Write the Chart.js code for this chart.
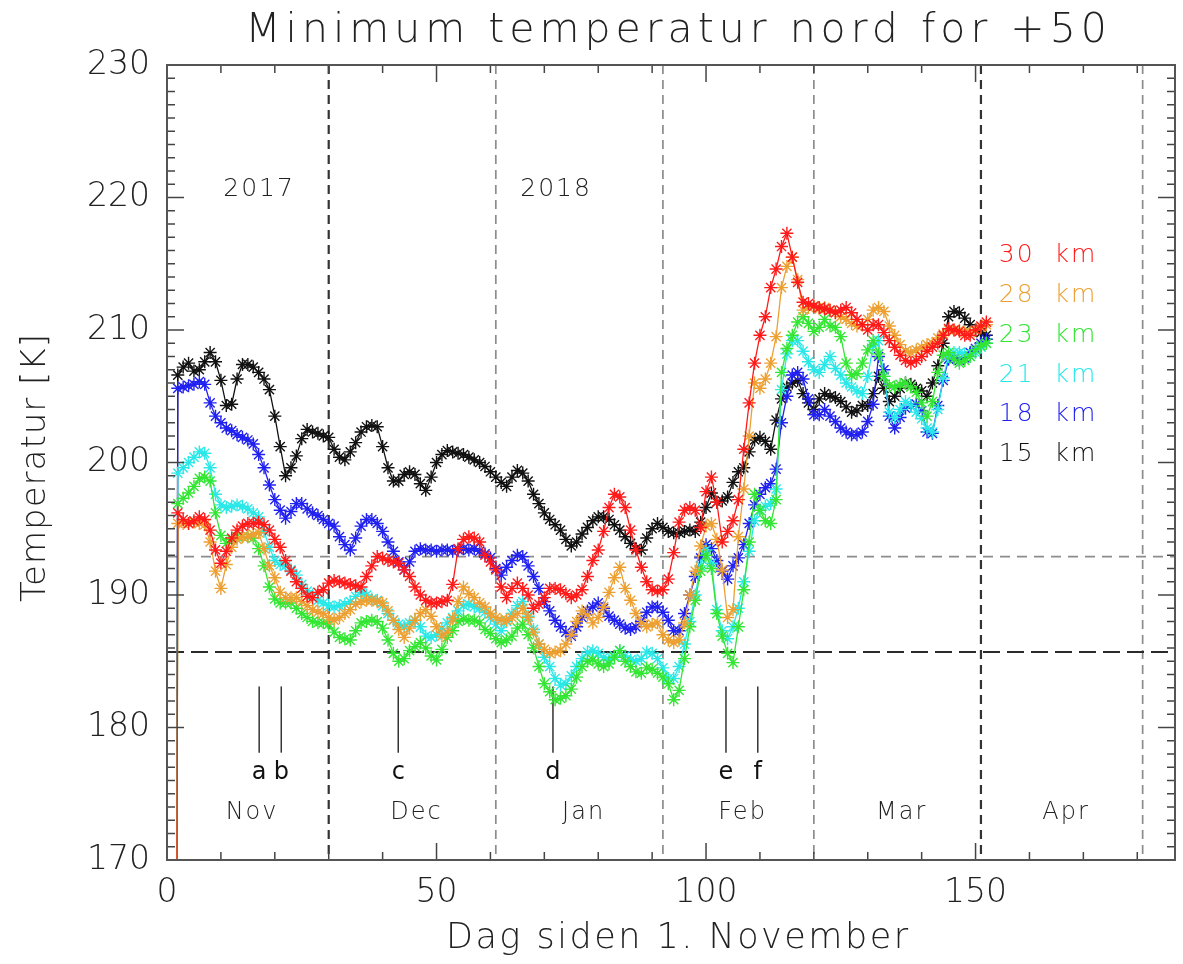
<!DOCTYPE html>
<html>
<head>
<meta charset="utf-8">
<title>Minimum temperatur nord for +50</title>
<script src="https://cdn.jsdelivr.net/npm/chart.js@4.4.1/dist/chart.umd.min.js"></script>
<style>
  html, body { margin: 0; padding: 0; background: #fff; }
  #ramme { width: 1183px; height: 964px; position: relative; }
</style>
</head>
<body>
<div id="ramme"><canvas id="graf"></canvas></div>
<script>
// dag 1 er fyllverdi (0) i alle seriene, derfor den loddrette streken ved start
const dager = Array.from({ length: 152 }, (_, i) => i + 1);

const hoyder = ['30 km', '28 km', '23 km', '21 km', '18 km', '15 km'];

const t30 = [0,
  196.2, 195.7, 195.4, 195.6, 195.9, 195.7, 194.9, 193.4, 192.4, 193.3,
  194.3, 194.9, 195.2, 195.4, 195.4, 195.5, 195.3, 194.9, 194.2, 193.6,
  192.6, 191.8, 191.0, 190.5, 189.9, 189.8, 190.2, 190.4, 190.9, 191.1,
  191.0, 190.9, 190.8, 190.7, 190.6, 191.4, 192.2, 192.9, 192.8, 192.6,
  192.5, 192.4, 191.9, 191.4, 190.6, 190.0, 189.6, 189.4, 189.4, 189.5,
  189.6, 190.8, 193.5, 194.2, 194.4, 194.3, 194.0, 193.0, 192.5, 191.9,
  190.6, 189.8, 190.5, 190.9, 190.5, 190.0, 189.0, 189.3, 189.8, 190.5,
  190.5, 190.4, 190.1, 189.8, 190.0, 190.4, 191.4, 192.6, 193.4, 194.8,
  196.6, 197.6, 197.4, 196.6, 194.9, 193.4, 192.1, 191.0, 190.4, 190.3,
  190.4, 191.2, 193.2, 195.5, 196.4, 196.6, 196.4, 195.1, 197.8, 198.9,
  197.0, 194.0, 194.8, 195.6, 197.2, 201.0, 204.5, 207.5, 209.6, 211.0,
  213.2, 214.6, 216.3, 217.3, 215.5, 213.6, 212.1, 212.0, 211.8, 211.7,
  211.6, 211.5, 211.3, 211.5, 211.7, 211.3, 210.8, 210.4, 210.0, 210.4,
  210.4, 209.8, 209.2, 208.7, 208.1, 207.7, 207.5, 207.7, 208.0, 208.4,
  208.7, 209.0, 209.6, 210.1, 210.0, 209.9, 209.6, 209.6, 210.0, 210.3, 210.6];

const t28 = [0,
  195.4, 195.4, 195.4, 195.5, 195.4, 195.3, 194.0, 191.8, 190.5, 192.3,
  193.6, 194.2, 194.4, 194.4, 194.6, 194.7, 193.5, 192.2, 191.3, 190.2,
  189.8, 189.8, 189.8, 189.5, 189.2, 188.9, 188.7, 188.6, 188.3, 188.1,
  188.3, 188.6, 188.9, 189.3, 189.5, 189.6, 189.6, 189.5, 189.4, 188.8,
  188.1, 187.4, 186.8, 187.5, 188.1, 188.6, 188.9, 188.4, 187.6, 186.9,
  187.2, 188.2, 189.5, 190.6, 190.1, 189.8, 189.4, 189.1, 188.6, 188.3,
  188.1, 188.1, 188.3, 188.6, 189.0, 188.3, 187.2, 186.3, 185.9, 185.6,
  185.7, 185.8, 186.3, 187.0, 188.0, 188.8, 188.5, 187.9, 188.3, 189.1,
  190.2, 191.3, 192.1, 190.5, 189.6, 188.6, 187.9, 187.6, 187.8, 187.9,
  187.0, 186.6, 186.4, 186.6, 187.9, 190.0, 191.8, 193.7, 195.2, 195.4,
  194.2, 191.9, 188.3, 188.9, 194.4, 198.0, 202.0, 206.0, 205.6, 206.3,
  207.5, 209.5, 213.2, 214.8, 215.5, 213.8, 211.5, 211.7, 211.8, 211.6,
  211.7, 211.5, 211.3, 211.0, 210.8, 210.5, 210.3, 210.4, 210.8, 211.5,
  211.7, 211.4, 210.3, 209.6, 208.9, 208.4, 208.3, 208.5, 208.7, 208.9,
  209.0, 209.4, 209.7, 210.0, 210.0, 210.0, 209.8, 209.8, 210.0, 210.2, 210.4];

const t23 = [0,
  196.9, 197.3, 197.7, 198.2, 198.8, 198.9, 198.6, 196.2, 194.5, 193.9,
  194.2, 194.4, 194.4, 194.4, 194.3, 193.5, 192.2, 190.6, 189.7, 189.4,
  189.4, 189.4, 189.0, 188.6, 188.3, 188.0, 187.9, 187.9, 187.8, 187.2,
  186.8, 186.7, 186.6, 187.3, 187.9, 188.0, 188.1, 188.0, 187.5, 186.6,
  185.6, 185.0, 185.2, 185.8, 186.1, 186.4, 186.0, 185.4, 185.1, 185.9,
  186.8, 187.3, 188.0, 188.2, 188.1, 188.1, 187.9, 187.4, 187.1, 186.7,
  186.4, 186.6, 186.9, 187.5, 187.8, 187.0, 186.0, 184.6, 183.3, 182.7,
  182.1, 182.2, 182.4, 182.9, 183.8, 184.6, 185.0, 185.1, 184.8, 184.6,
  184.8, 185.3, 185.8, 185.0, 184.6, 184.2, 184.1, 184.5, 184.4, 184.1,
  183.8, 183.3, 182.1, 182.8, 185.2, 187.6, 189.6, 191.8, 193.0, 192.0,
  188.6, 186.9, 185.6, 184.9, 187.6, 190.4, 194.0, 197.6, 196.4, 195.6,
  195.4, 197.2, 206.8, 208.6, 209.6, 210.6, 211.0, 210.5, 209.9, 210.2,
  210.8, 210.3, 210.2, 209.5, 207.5, 206.6, 206.7, 207.5, 208.5, 209.2,
  208.2, 206.5, 205.8, 205.7, 205.9, 206.0, 205.7, 205.3, 204.5, 203.5,
  204.6, 206.8, 208.1, 208.3, 207.8, 207.5, 207.7, 208.0, 208.5, 208.8, 209.0];

const t21 = [0,
  199.2, 199.6, 200.0, 200.4, 200.8, 200.7, 199.6, 197.6, 196.8, 196.6,
  196.7, 196.8, 196.7, 196.5, 196.2, 195.9, 194.8, 193.6, 192.6, 192.3,
  192.2, 191.9, 191.5, 190.8, 190.3, 190.0, 189.6, 189.4, 189.2, 189.1,
  189.2, 189.3, 189.5, 189.9, 190.2, 190.0, 189.7, 189.6, 189.2, 188.6,
  188.1, 187.8, 187.6, 187.9, 188.1, 187.6, 186.9, 186.8, 187.0, 187.5,
  187.9, 188.3, 188.8, 189.2, 189.3, 189.1, 189.0, 188.7, 188.3, 187.8,
  187.3, 188.0, 188.6, 189.2, 189.5, 188.4, 187.4, 186.3, 185.3, 184.6,
  183.7, 183.2, 183.3, 183.9, 184.6, 185.2, 185.7, 185.8, 185.6, 185.3,
  185.1, 185.4, 185.8, 185.4, 185.1, 185.0, 185.2, 185.7, 185.6, 185.2,
  184.5, 183.7, 183.7, 184.6, 186.3, 188.0, 190.0, 192.2, 193.4, 192.4,
  188.9, 187.3, 186.7, 187.6, 189.0, 191.0, 193.3, 195.6, 196.4, 196.7,
  196.9, 198.0, 205.5, 208.2, 209.2, 209.2, 208.4, 207.6, 207.0, 206.8,
  207.4, 208.0, 207.1, 206.6, 206.0, 205.7, 205.4, 205.2, 206.5, 208.8,
  209.2, 206.5, 203.8, 203.4, 204.0, 204.6, 204.3, 203.8, 203.3, 202.6,
  202.3, 204.0, 206.4, 208.0, 208.3, 208.3, 208.2, 208.0, 208.3, 208.7, 209.0];

const t18 = [0,
  205.6, 205.7, 205.8, 205.9, 206.1, 205.9, 204.5, 203.5, 203.0, 202.6,
  202.4, 202.1, 201.9, 201.7, 201.4, 200.6, 199.6, 198.3, 197.2, 196.4,
  195.8, 196.3, 196.9, 196.9, 196.5, 196.2, 196.0, 195.7, 195.4, 195.2,
  194.4, 193.8, 193.4, 194.3, 195.2, 195.7, 195.7, 195.4, 194.8, 194.0,
  193.3, 192.5, 191.9, 192.5, 193.3, 193.5, 193.4, 193.4, 193.3, 193.4,
  193.4, 193.3, 193.4, 193.5, 193.4, 193.5, 193.3, 193.1, 192.8, 192.0,
  191.5, 192.1, 192.6, 193.0, 192.9, 192.2, 191.4, 190.5, 189.5, 188.8,
  188.1, 187.6, 187.2, 186.9, 187.6, 188.3, 188.8, 189.1, 189.4, 189.0,
  188.4, 188.1, 187.8, 187.5, 187.4, 187.6, 188.0, 188.7, 189.1, 189.1,
  188.7, 188.1, 187.3, 187.3, 188.6, 190.0, 191.4, 192.8, 193.8, 193.5,
  192.6, 191.8, 191.2, 192.2, 192.8, 193.8, 195.4, 196.8, 197.6, 198.1,
  198.4, 199.5, 203.0, 205.0, 206.6, 206.8, 206.3, 204.8, 203.6, 203.6,
  204.0, 203.5, 203.1, 202.6, 202.3, 202.1, 202.1, 202.3, 203.1, 204.4,
  208.0, 207.0, 203.5, 202.6, 203.4, 204.1, 204.3, 204.4, 203.9, 202.3,
  202.2, 204.3, 206.2, 207.8, 207.9, 207.7, 207.9, 208.3, 208.6, 209.0, 209.3];

const t15 = [0,
  206.6, 207.2, 207.5, 206.9, 207.0, 207.6, 208.3, 207.6, 206.2, 204.3,
  204.4, 206.3, 207.4, 207.4, 207.2, 206.8, 206.3, 205.5, 203.5, 201.2,
  199.0, 199.6, 200.5, 201.8, 202.5, 202.3, 202.2, 202.0, 201.9, 201.0,
  200.4, 200.2, 200.8, 201.5, 202.3, 202.7, 202.8, 202.7, 201.2, 199.6,
  198.6, 198.6, 199.1, 199.3, 199.1, 198.4, 197.9, 198.9, 200.0, 200.6,
  200.9, 200.8, 200.7, 200.6, 200.4, 200.2, 200.0, 199.7, 199.3, 198.9,
  198.5, 198.2, 198.9, 199.4, 199.2, 198.6, 197.6, 196.9, 196.2, 195.7,
  195.3, 194.9, 194.2, 193.7, 194.0, 194.6, 195.1, 195.6, 195.9, 195.9,
  195.7, 195.3, 194.9, 194.4, 193.9, 193.5, 193.4, 194.3, 195.0, 195.4,
  195.1, 194.8, 194.7, 194.7, 194.8, 194.9, 194.8, 195.5, 196.6, 197.7,
  197.0, 197.1, 197.4, 198.5, 199.3, 199.6, 200.8, 201.7, 201.9, 201.6,
  201.0, 203.2, 204.8, 205.7, 206.0, 206.2, 205.2, 204.5, 204.0, 204.8,
  205.2, 205.0, 204.9, 204.6, 204.2, 203.8, 203.9, 204.3, 204.3, 205.2,
  206.5, 205.6, 204.6, 205.0, 205.6, 206.0, 205.9, 205.6, 205.4, 205.0,
  206.0, 207.3, 209.0, 211.0, 211.4, 211.3, 210.9, 210.4, 210.0, 209.8, 209.6];

const serier = [t30, t28, t23, t21, t18, t15];
const farger = ['#ff1a1a', '#eda032', '#33e633', '#2ae8e8', '#2020f0', '#111111'];

// akser
const xTikker = [0, 50, 100, 150];
const yTikker = [170, 180, 190, 200, 210, 220, 230];

// månedsgrenser (dag), navn og årstall
const maneder = ['Nov', 'Dec', 'Jan', 'Feb', 'Mar', 'Apr'];
const manedsgrenser = [30, 61, 92, 120, 151, 181];
const arstall = ['2017', '2018'];
// terskler (K)
const terskler = [192.9, 185.7];
// hendelser a-f
const hendelser = ['a', 'b', 'c', 'd', 'e', 'f'];
const hendelsesdager = [17.1, 21.2, 42.9, 71.6, 103.7, 109.6];

const FONT = '"DejaVu Sans", "Liberation Sans", sans-serif';
const VEKT = '200 ';

function tekst(ctx, s, x, y, str, farge, avstand, vekt) {
  ctx.font = (vekt || VEKT) + str + 'px ' + FONT;
  ctx.fillStyle = farge;
  ctx.letterSpacing = (avstand || 0) + 'px';
  ctx.textAlign = 'center';
  ctx.textBaseline = 'middle';
  ctx.fillText(s, x + (avstand || 0) / 2, y);
}

function strek(ctx, x1, y1, x2, y2) {
  ctx.beginPath();
  ctx.moveTo(x1, y1);
  ctx.lineTo(x2, y2);
  ctx.stroke();
}

const pynt = {
  id: 'pynt',
  beforeDatasetsDraw(chart) {
    const { ctx, chartArea: a, scales: { x, y } } = chart;
    ctx.save();
    // loddrette månedslinjer
    manedsgrenser.forEach(d => {
      const px = x.getPixelForValue(d);
      const mork = d === 30 || d === 151;
      ctx.strokeStyle = mork ? '#333' : '#8c8c8c';
      ctx.lineWidth = mork ? 2.2 : 1.7;
      ctx.setLineDash([9, 6]);
      strek(ctx, px, a.top, px, a.bottom);
    });
    // terskler
    ctx.setLineDash([10, 7]);
    ctx.strokeStyle = '#8c8c8c';
    ctx.lineWidth = 1.6;
    strek(ctx, a.left, y.getPixelForValue(terskler[0]), a.right, y.getPixelForValue(terskler[0]));
    ctx.setLineDash([17, 7]);
    ctx.strokeStyle = '#2a2a2a';
    ctx.lineWidth = 2;
    strek(ctx, a.left, y.getPixelForValue(terskler[1]), a.right, y.getPixelForValue(terskler[1]));
    ctx.setLineDash([]);

    // hendelser
    ctx.strokeStyle = '#333';
    ctx.lineWidth = 1.5;
    hendelsesdager.forEach((d, i) => {
      const px = x.getPixelForValue(d);
      strek(ctx, px, y.getPixelForValue(183.1), px, y.getPixelForValue(178.1));
      tekst(ctx, hendelser[i], px, y.getPixelForValue(176.6), 24, '#111', 0, '400 ');
    });

    // månedsnavn midt i hver måned
    let start = 0;
    maneder.forEach((m, i) => {
      const mid = (start + manedsgrenser[i]) / 2 + 0.6;
      tekst(ctx, m, x.getPixelForValue(mid), y.getPixelForValue(173.6), 24, '#222', 2);
      start = manedsgrenser[i];
    });

    // årstall
    tekst(ctx, arstall[0], x.getPixelForValue(16.9), y.getPixelForValue(220.6), 25, '#222', 2);
    tekst(ctx, arstall[1], x.getPixelForValue(72), y.getPixelForValue(220.6), 25, '#222', 2);

    // forklaring
    hoyder.forEach((h, i) => {
      ctx.font = '300 25px ' + FONT;
      ctx.letterSpacing = '2px';
      ctx.fillStyle = farger[i];
      ctx.textAlign = 'left';
      ctx.textBaseline = 'middle';
      ctx.fillText(h.replace(' ', '  '), x.getPixelForValue(154.3), y.getPixelForValue(215.6 - 3 * i));
    });
    ctx.restore();
  },
  afterDraw(chart) {
    const { ctx, chartArea: a, scales: { x, y } } = chart;
    ctx.save();
    ctx.strokeStyle = '#444';
    ctx.lineWidth = 1.5;
    // tikker innover på alle fire sider
    for (let v = 0; v <= x.max; v += 10) {
      const px = x.getPixelForValue(v);
      const l = v % 50 === 0 ? 17 : 8;
      strek(ctx, px, a.bottom, px, a.bottom - l);
      strek(ctx, px, a.top, px, a.top + l);
    }
    for (let v = y.min; v <= y.max; v += 1) {
      const py = y.getPixelForValue(v);
      const l = v % 10 === 0 ? 17 : 8;
      strek(ctx, a.left, py, a.left + l, py);
      strek(ctx, a.right, py, a.right - l, py);
    }
    ctx.lineWidth = 2;
    ctx.strokeStyle = '#555';
    ctx.strokeRect(a.left, a.top, a.right - a.left, a.bottom - a.top);

    // titler
    tekst(ctx, 'Minimum temperatur nord for +50', 676, 31, 41, '#222', 5);
    tekst(ctx, 'Dag siden 1. November', 677, 939, 35, '#222', 2.5);
    ctx.translate(36, 468);
    ctx.rotate(-Math.PI / 2);
    tekst(ctx, 'Temperatur [K]', 0, 0, 34, '#222', 1);
    ctx.restore();
  }
};

const datasett = serier.map((s, i) => ({
  label: hoyder[i],
  data: dager.map((d, j) => ({ x: d, y: s[j] })),
  borderColor: farger[i],
  backgroundColor: farger[i],
  borderWidth: 1.3,
  pointStyle: 'star',
  pointRadius: 6.5,
  pointBorderWidth: 1.4,
  pointBorderColor: farger[i],
  tension: 0
}));

new Chart(document.getElementById('graf'), {
  type: 'line',
  data: { datasets: datasett },
  options: {
    responsive: true,
    maintainAspectRatio: false,
    animation: false,
    events: [],
    layout: { padding: { top: 65, right: 8, left: 0, bottom: 0 } },
    plugins: { legend: { display: false }, tooltip: { enabled: false } },
    scales: {
      x: {
        type: 'linear',
        min: 0,
        max: 187,
        grid: { display: false, drawTicks: false },
        border: { display: false },
        afterBuildTicks: s => { s.ticks = xTikker.map(v => ({ value: v })); },
        afterFit: s => { s.height = 104; },
        ticks: { font: { family: FONT, size: 33, weight: '200' }, color: '#222', padding: 14, maxRotation: 0 }
      },
      y: {
        min: 170,
        max: 230,
        grid: { display: false, drawTicks: false },
        border: { display: false },
        afterBuildTicks: s => { s.ticks = yTikker.map(v => ({ value: v })); },
        afterFit: s => { s.width = 167; },
        ticks: { font: { family: FONT, size: 33, weight: '200' }, color: '#222', padding: 17 }
      }
    }
  },
  plugins: [pynt]
});
</script>
</body>
</html>
